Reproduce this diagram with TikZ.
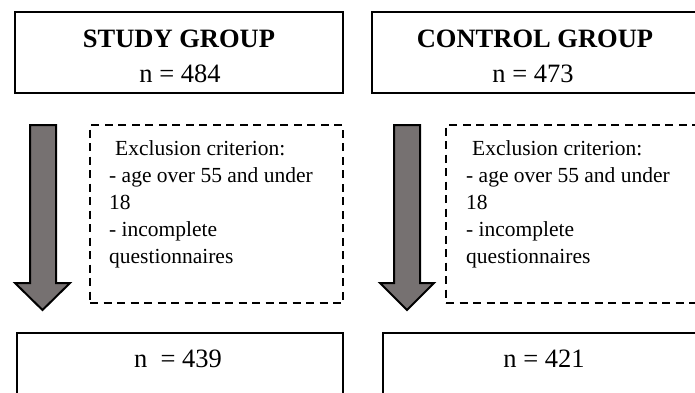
\documentclass[tikz,border=0pt]{standalone}
\usepackage{fontspec}
\setmainfont{Liberation Serif}
\definecolor{arrowgray}{RGB}{118,113,113}
\begin{document}
\begin{tikzpicture}[x=1pt,y=-1pt,
  box/.style={draw, line width=2pt, inner sep=0, outer sep=0},
  exbox/.style={draw, line width=2pt, dash pattern=on 8pt off 5.5pt, inner sep=0, outer sep=0},
  bigarrow/.style={draw, line width=2pt, fill=arrowgray, line join=miter},
  ttl/.style={font=\fontsize{26.5}{30}\selectfont\bfseries, anchor=base, inner sep=0},
  num/.style={font=\fontsize{26.5}{30}\selectfont, anchor=base, inner sep=0},
  ex/.style={font=\fontsize{21.5}{27}\selectfont, align=left, anchor=north west, inner sep=0}]
\useasboundingbox (0,0) rectangle (695,392);
\begin{scope}
\clip (0,0) rectangle (695,392);
% top boxes
\node[box, minimum width=328pt, minimum height=81pt] (sg) at (179,52.5) {};
\node[box, minimum width=326pt, minimum height=81pt] (cg) at (535,52.5) {};
\node[ttl] (sgt) at (179,47) {STUDY GROUP};
\node[num] (sgn) at (180,82) {n = 484};
\node[ttl] (cgt) at (535,47) {CONTROL GROUP};
\node[num] (cgn) at (533,82) {n = 473};
% exclusion boxes
\node[exbox, minimum width=253pt, minimum height=178pt] (se) at (216.5,214) {};
\node[exbox, minimum width=254pt, minimum height=178pt] (ce) at (573,214) {};
\node[ex] (set) at (109,140.3) {\hspace*{6pt}Exclusion criterion:\\- age over 55 and under\\18\\- incomplete\\questionnaires};
\node[ex] (cet) at (466,140.3) {\hspace*{6pt}Exclusion criterion:\\- age over 55 and under\\18\\- incomplete\\questionnaires};
% arrows
\draw[bigarrow] (30,125) -- (56,125) -- (56,283) -- (70,283) -- (42.5,310) -- (15,283) -- (30,283) -- cycle;
\draw[bigarrow] (394,125) -- (420,125) -- (420,283) -- (434,283) -- (407,310) -- (380,283) -- (394,283) -- cycle;
% bottom boxes
\node[box, minimum width=326pt, minimum height=77pt] (sb) at (180,371.5) {};
\node[box, minimum width=322pt, minimum height=77pt] (cb) at (544,371.5) {};
\node[num] (sbn) at (178,367) {n\ \ = 439};
\node[num] (cbn) at (544,367) {n = 421};
\end{scope}
\end{tikzpicture}
\end{document}
